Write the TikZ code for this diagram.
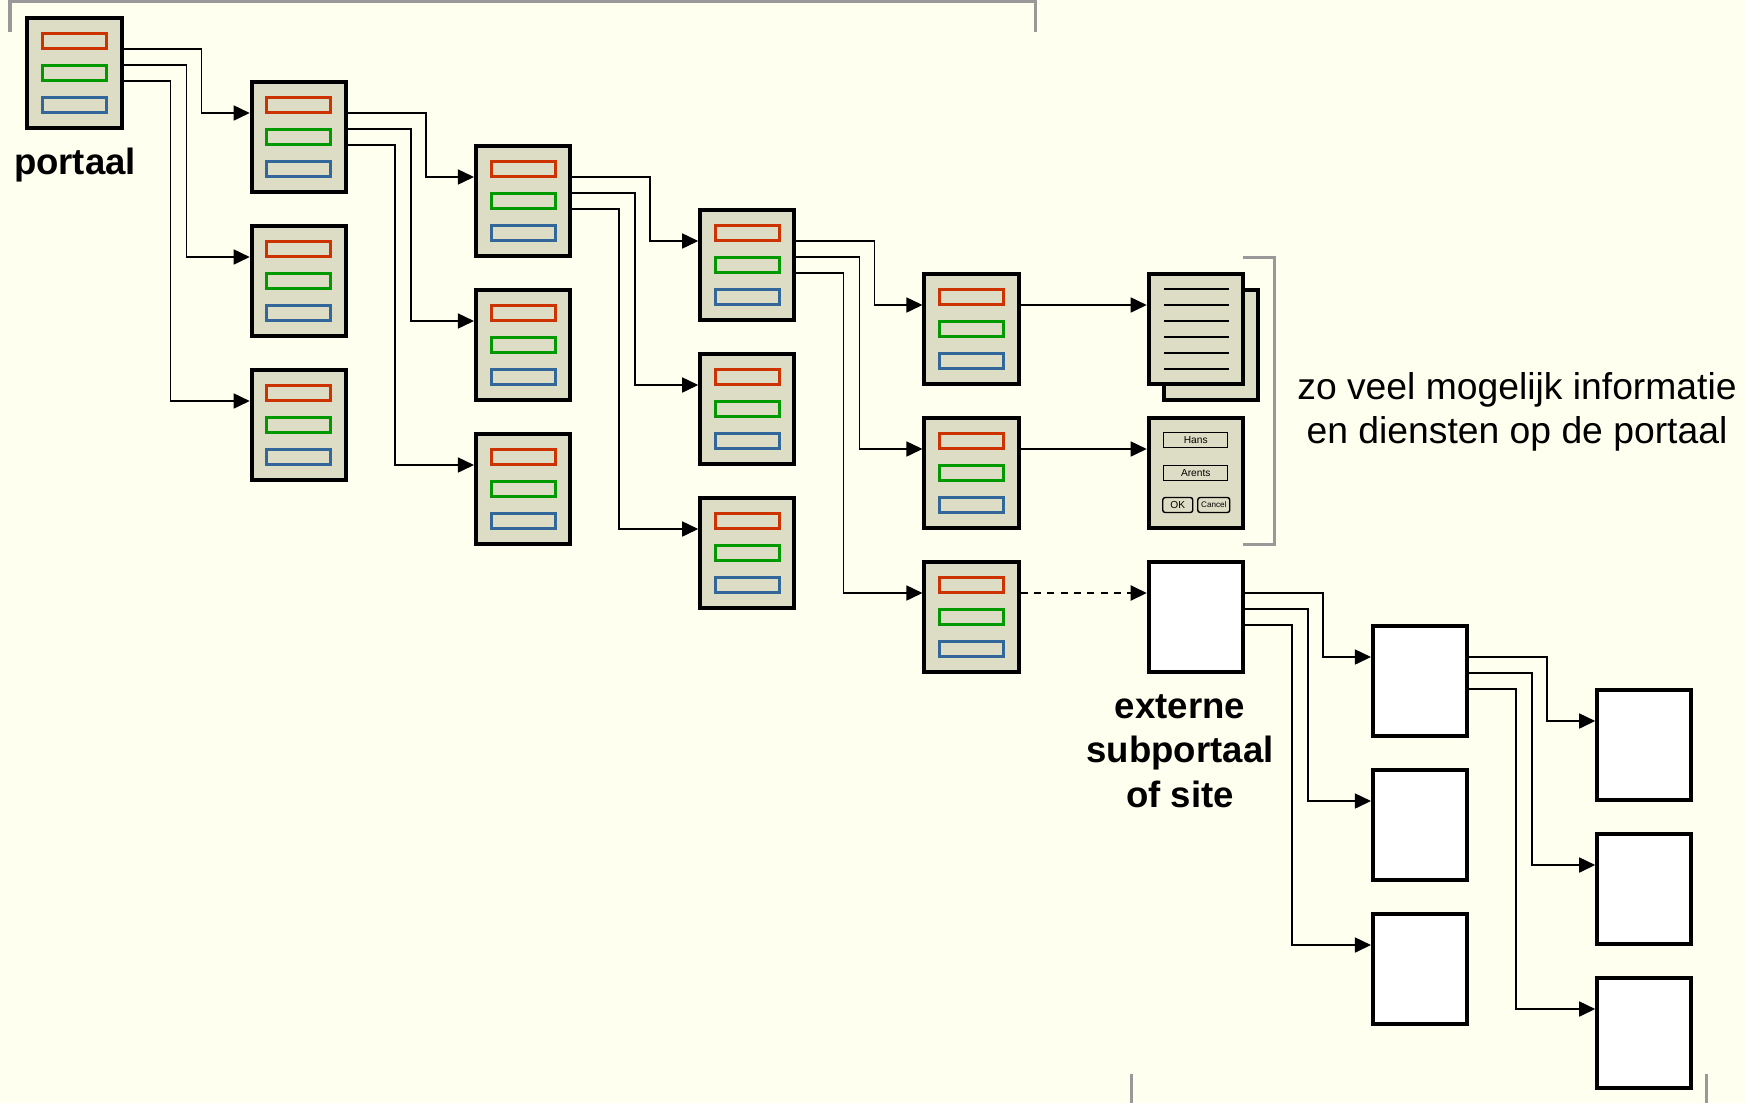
\documentclass[tikz,border=0pt]{standalone}
\usepackage{fontspec}
\setmainfont{Liberation Sans}
\usetikzlibrary{positioning, calc, arrows.meta}

\definecolor{paper}{RGB}{255,255,240}
\definecolor{pagefill}{RGB}{221,221,197}
\definecolor{barred}{RGB}{204,51,0}
\definecolor{bargreen}{RGB}{0,153,0}
\definecolor{barblue}{RGB}{51,102,153}
\definecolor{brackgray}{RGB}{153,153,153}

\begin{document}
\begin{tikzpicture}[
    x=0.01cm, y=-0.01cm,
    page/.style={draw, line width=0.04cm, rectangle, fill=pagefill, minimum width=0.94cm, minimum height=1.09cm, inner sep=0pt},
    extpage/.style={page, fill=white},
    bar/.style={line width=0.03cm},
    conn/.style={line width=0.45pt, -{Triangle[length=1.6mm, width=1.5mm]}},
    bracket/.style={draw=brackgray, line width=0.03cm},
    field/.style={draw, line width=0.4pt, rectangle, minimum width=0.64cm, minimum height=0.15cm, inner sep=0pt, fill=pagefill, font=\fontsize{2.9}{3}\selectfont},
    knop/.style={field, rounded corners=0.7pt},
    lbl/.style={font=\fontsize{10.6}{12.5}\selectfont, align=center},
    boldlbl/.style={font=\fontsize{10.4}{12.6}\selectfont\bfseries, align=center}
]

    % --- Canvas ---
    \fill[paper] (0,0) rectangle (1746,1103);
    \useasboundingbox (0,0) rectangle (1746,1103);

    % --- Brackets ---
    \draw[bracket] (10,32) -- (10,1.5) -- (1035,1.5) -- (1035,32);
    \draw[bracket] (1243,257) -- (1274,257) -- (1274,544) -- (1243,544);
    \draw[bracket] (1131,1074) -- (1131,1103);
    \draw[bracket] (1706,1074) -- (1706,1103);

    % --- Portal pages ---
    \node[page] (p0) at (74.5,73) {};

    \node[page] (a1) at (298.75,137) {};
    \node[page] (a2) at (298.75,281) {};
    \node[page] (a3) at (298.75,425) {};

    \node[page] (b1) at (523,201) {};
    \node[page] (b2) at (523,345) {};
    \node[page] (b3) at (523,489) {};

    \node[page] (c1) at (747.25,265) {};
    \node[page] (c2) at (747.25,409) {};
    \node[page] (c3) at (747.25,553) {};

    \node[page] (d1) at (971.5,329) {};
    \node[page] (d2) at (971.5,473) {};
    \node[page] (d3) at (971.5,617) {};

    % colored bars inside each page
    \foreach \n in {p0,a1,a2,a3,b1,b2,b3,c1,c2,c3,d1,d2,d3} {
        \draw[bar, barred] ($(\n.center)+(-32,-39.5)$) rectangle ++(64,15);
        \draw[bar, bargreen] ($(\n.center)+(-32,-8)$) rectangle ++(64,15);
        \draw[bar, barblue] ($(\n.center)+(-32,24.5)$) rectangle ++(64,15);
    }

    % --- Information (document stack) ---
    \node[page] (docback) at (1211,345) {};
    \node[page] (doc) at (1195.75,329) {};
    \foreach \dy in {-40,-24,-8,8,24,40}
        \draw[line width=0.4pt] ($(doc.center)+(-32,\dy)$) -- ++(65,0);

    % --- Services (form) ---
    \node[page] (form) at (1195.75,473) {};
    \node[field] (hans) at ($(form.center)+(0,-33)$) {Hans};
    \node[field] (arents) at ($(form.center)+(0,0)$) {Arents};
    \node[knop, minimum width=0.30cm] (ok) at ($(form.center)+(-18,32)$) {OK};
    \node[knop, minimum width=0.32cm, font=\fontsize{2.3}{3}\selectfont] (cancel) at ($(form.center)+(18,32)$) {Cancel};

    % --- External subportal ---
    \node[extpage] (ext) at (1195.75,617) {};

    \node[extpage] (e1) at (1420,681) {};
    \node[extpage] (e2) at (1420,825) {};
    \node[extpage] (e3) at (1420,969) {};

    \node[extpage] (f1) at (1644.25,745) {};
    \node[extpage] (f2) at (1644.25,889) {};
    \node[extpage] (f3) at (1644.25,1033) {};

    % --- Connections parent to children ---
    \foreach \src/\dst in {p0/a,a1/b,b1/c,c1/d,ext/e,e1/f} {
        \draw[conn] ($(\src.east)+(0,-24)$) -- ++(78,0) |- ($(\dst1.west)+(0,-24)$);
        \draw[conn] ($(\src.east)+(0,-8)$) -- ++(63,0) |- ($(\dst2.west)+(0,-24)$);
        \draw[conn] ($(\src.east)+(0,8)$) -- ++(47,0) |- ($(\dst3.west)+(0,-24)$);
    }

    % straight links to the end pages
    \draw[conn] ($(d1.east)+(0,-24)$) -- ($(doc.west)+(0,-24)$);
    \draw[conn] ($(d2.east)+(0,-24)$) -- ($(form.west)+(0,-24)$);
    \draw[conn, line width=0.6pt, dash pattern=on 2pt off 1.8pt] ($(d3.east)+(0,-24)$) -- ($(ext.west)+(0,-24)$);

    % --- Labels ---
    \node[boldlbl, anchor=base] (portaaltxt) at (75,174) {portaal};
    \node[lbl, anchor=base] (infotxt) at (1517,443) {zo veel mogelijk informatie\\en diensten op de portaal};
    \node[boldlbl, anchor=base] (exttxt) at (1180,807) {externe\\subportaal\\of site};

\end{tikzpicture}
\end{document}
